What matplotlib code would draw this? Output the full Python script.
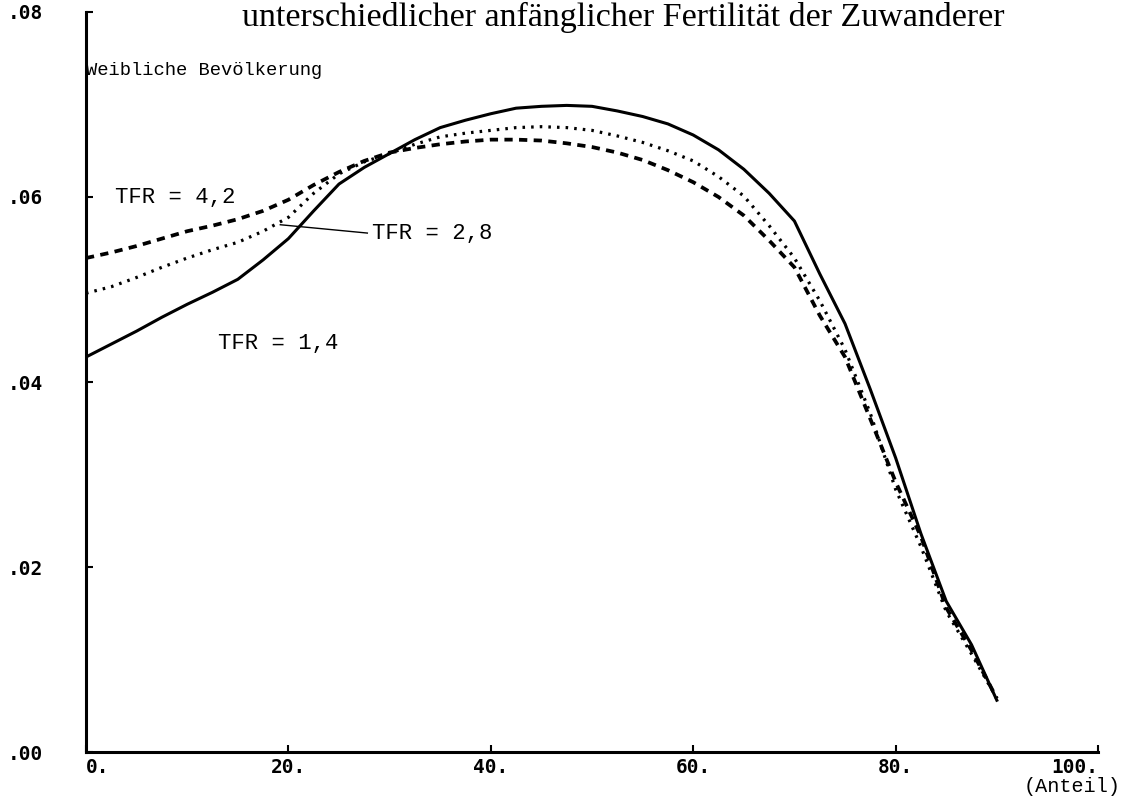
#!/usr/bin/python3
#-*- coding: utf-8 -*-
import numpy as np
import matplotlib
matplotlib.use("Agg")
import matplotlib.pyplot as plt

# Alter (Anteil) and female population shares for the three TFR scenarios
alter = [0, 2.5, 5, 7.5, 10, 12.5, 15, 17.5, 20, 22.5, 25, 27.5, 30, 32.5, 35, 37.5, 40, 42.5,
         45, 47.5, 50, 52.5, 55, 57.5, 60, 62.5, 65, 67.5, 70, 72.5, 75, 77.5, 80, 82.5, 85,
         87.5, 90]
tfr_14 = [0.0427, 0.0441, 0.0455, 0.0470, 0.0484, 0.0497, 0.0511, 0.0532, 0.0555, 0.0585,
          0.0614, 0.0632, 0.0647, 0.0662, 0.0675, 0.0683, 0.0690, 0.0696, 0.0698, 0.0699,
          0.0698, 0.0693, 0.0687, 0.0679, 0.0667, 0.0651, 0.0630, 0.0604, 0.0574, 0.0517,
          0.0463, 0.0392, 0.0318, 0.0236, 0.0163, 0.0116, 0.0056]
tfr_28 = [0.0496, 0.0503, 0.0513, 0.0524, 0.0534, 0.0543, 0.0551, 0.0563, 0.0578, 0.0604,
          0.0625, 0.0638, 0.0647, 0.0657, 0.0665, 0.0669, 0.0672, 0.0675, 0.0676, 0.0675,
          0.0672, 0.0666, 0.0659, 0.0650, 0.0639, 0.0622, 0.0601, 0.0569, 0.0534, 0.0488,
          0.0435, 0.0366, 0.0284, 0.0222, 0.0152, 0.0106, 0.0058]
tfr_42 = [0.0534, 0.0540, 0.0547, 0.0555, 0.0563, 0.0569, 0.0576, 0.0585, 0.0597, 0.0613,
          0.0627, 0.0639, 0.0648, 0.0653, 0.0657, 0.0660, 0.0662, 0.0662, 0.0661, 0.0658,
          0.0654, 0.0648, 0.0640, 0.0629, 0.0616, 0.0600, 0.0580, 0.0553, 0.0524, 0.0472,
          0.0427, 0.0360, 0.0292, 0.0233, 0.0156, 0.0110, 0.0058]

xticks = [0, 20, 40, 60, 80, 100]
xtick_labels = ["0.", "20.", "40.", "60.", "80.", "100."]
yticks = [0.0, 0.02, 0.04, 0.06, 0.08]
ytick_labels = [".00", ".02", ".04", ".06", ".08"]

title = "unterschiedlicher anfänglicher Fertilität der Zuwanderer"

mono = ["Liberation Mono", "DejaVu Sans Mono"]
tickfont = dict(family="DejaVu Sans Mono", weight="bold", size=14)

fig = plt.figure(figsize=(11.27, 7.98), dpi=100)
ax = fig.add_axes([0.0763, 0.0576, 0.8980, 0.9274])

ax.plot(alter, tfr_14, color="k", linewidth=2.2, linestyle="-")
ax.plot(alter, tfr_28, color="k", linewidth=2.3, linestyle=(0, (0.8, 1.9)))
ax.plot(alter, tfr_42, color="k", linewidth=2.7, linestyle=(0, (2.2, 1.7)))

ax.set_xlim(0, 100)
ax.set_ylim(0, 0.08)
for s in ["top", "right"]:
    ax.spines[s].set_visible(False)
for s in ["left", "bottom"]:
    ax.spines[s].set_linewidth(2.2)

ax.set_xticks(xticks)
ax.set_xticklabels(xtick_labels, fontdict=tickfont)
ax.set_yticks(yticks)
ax.set_yticklabels(ytick_labels, fontdict=tickfont)
ax.tick_params(axis="both", direction="in", length=5, width=1.5)
ax.tick_params(axis="x", pad=4)
ax.tick_params(axis="y", pad=31)
xl = ax.get_xticklabels()
xl[0].set_ha("left")
xl[-1].set_ha("right")

# annotations
ax.text(0.0, 0.0737, "Weibliche Bevölkerung", family=mono, fontsize=13.5, va="center", ha="left")
ax.text(2.9, 0.0599, "TFR = 4,2", family=mono, fontsize=16, va="center", ha="left")
ax.text(13.0, 0.0442, "TFR = 1,4", family=mono, fontsize=16, va="center", ha="left")
ax.plot([19.2, 27.8], [0.0570, 0.0561], color="k", linewidth=1.0)
ax.text(28.3, 0.0561, "TFR = 2,8", family=mono, fontsize=16, va="center", ha="left")
ax.text(1.022, -0.034, "(Anteil)", transform=ax.transAxes, family=mono, fontsize=14.5,
        va="top", ha="right")

fig.text(623 / 1127, 1 - 2 / 798, title, family="Liberation Serif", fontsize=24.5,
         ha="center", va="top")

plt.savefig("out.png", dpi=100)
